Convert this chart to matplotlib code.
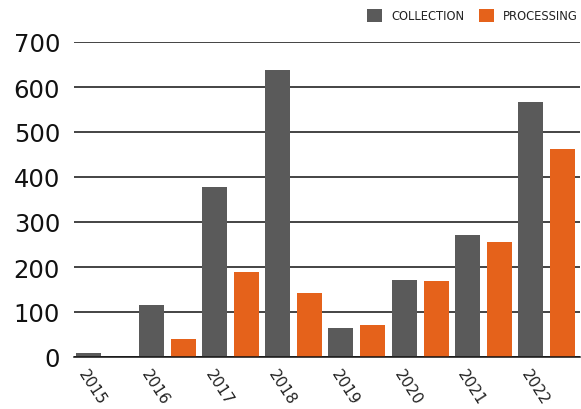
import matplotlib
matplotlib.use("Agg")
import matplotlib.pyplot as plt
import numpy as np

years = ["2015", "2016", "2017", "2018", "2019", "2020", "2021", "2022"]
collection = [10, 115, 378, 637, 65, 172, 272, 567]
processing = [0, 40, 190, 142, 72, 170, 255, 463]
yticks = [0, 100, 200, 300, 400, 500, 600, 700]

GRAY = "#5a5a5a"
ORANGE = "#e5621b"

plt.rcParams['font.family'] = ['DejaVu Sans']

fig = plt.figure(figsize=(5.81, 4.10), dpi=100)
ax = fig.add_axes([74/581, (410-358)/410, (580-74)/581, (358-43)/410])

x = np.arange(len(years))
w = 0.396
off = 0.253
ax.bar(x - off, collection, width=w, color=GRAY, label="COLLECTION", zorder=3)
ax.bar(x + off, processing, width=w, color=ORANGE, label="PROCESSING", zorder=3)

ax.set_xlim(-0.475, 7.53)
ax.set_ylim(0, 700)
ax.set_yticks(yticks)
ax.set_yticklabels([str(v) for v in yticks], fontsize=17.5, color="#111111")
ax.yaxis.grid(True, color="#111111", linewidth=1.1, zorder=1)
ax.set_axisbelow(True)
for s in ["top", "right", "left"]:
    ax.spines[s].set_visible(False)
ax.spines["bottom"].set_color("#111111")
ax.spines["bottom"].set_linewidth(1.1)
ax.spines["bottom"].set_zorder(4)
ax.tick_params(axis="y", length=0, pad=10)
ax.tick_params(axis="x", length=0, pad=7)

ax.set_xticks(x - off)
ax.set_xticklabels(years, fontsize=11, color="#222222", rotation=-57,
                   ha="left", va="top", rotation_mode="anchor")

leg = fig.legend(loc="upper right", bbox_to_anchor=(578/581, (410-10)/410), ncol=2,
                 frameon=False, fontsize=8.3, handlelength=1.3, handleheight=1.3,
                 columnspacing=1.3, handletextpad=0.8, borderaxespad=0, borderpad=0)
for t in leg.get_texts():
    t.set_color("#222222")

fig.savefig("out.png", dpi=100)
